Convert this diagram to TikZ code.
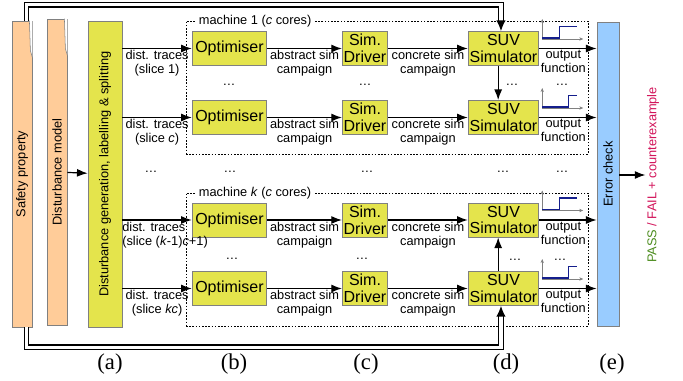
\documentclass[tikz,border=0pt]{standalone}
\usepackage{fontspec}
\usepackage{graphicx}
\setmainfont{Liberation Sans}
\newfontfamily\capfont{Liberation Serif}
\usepackage{tikz}
\usetikzlibrary{arrows.meta}
\definecolor{boxyellow}{RGB}{228,228,76}
\definecolor{boxorange}{RGB}{255,204,153}
\definecolor{boxblue}{RGB}{153,204,255}
\definecolor{passgreen}{RGB}{76,140,30}
\definecolor{failred}{RGB}{210,20,90}
\definecolor{stepblue}{RGB}{20,30,140}

\begin{document}
\begin{tikzpicture}
                [
                x=0.75pt, y=-0.75pt,
                box/.style={draw=gray,line width=0.6pt,fill=boxyellow,inner sep=1pt,align=center,minimum height=25.5pt,font=\fontsize{12}{12.5}\selectfont},
                tall/.style={draw=gray,line width=0.6pt,inner sep=0pt,minimum height=229.5pt,font=\fontsize{9.6}{10.5}\selectfont},
                machine/.style={draw,thin,dash pattern=on 1.2pt off 1.2pt,minimum width=301.5pt,minimum height=99.75pt},
                lbl/.style={align=center,inner sep=1pt,font=\fontsize{9.6}{10.5}\selectfont},
                caplbl/.style={inner sep=0pt,font=\capfont\fontsize{17}{17}\selectfont},
                edge/.style={-{Latex[length=8pt,width=6pt]},line width=0.9pt},
                dbl/.style={-{Latex[length=8pt,width=7pt]},line width=0.9pt,double,double distance=2.6pt},
                signal/.style={gray,-{Stealth[length=3pt,width=2.5pt]},thin}
                ]
            \useasboundingbox (0,0) rectangle (683,381);
            % machine frames
            \node[machine] (mach1) at (387,87.5) {};
            \node[machine] (machk) at (387,259.5) {};
            \node[lbl,fill=white,anchor=west,inner sep=2pt] (mach1lbl) at ([xshift=7.7pt]mach1.north west) {machine 1 (\textit{c} cores)};
            \node[lbl,fill=white,anchor=west,inner sep=2pt] (machklbl) at ([xshift=7.7pt]machk.north west) {machine \textit{k} (\textit{c} cores)};
            % left column
            \node[tall,fill=boxorange,minimum width=15pt] (safety) at (22,174) {\rotatebox{90}{Safety property}};
            \node[tall,fill=boxorange,minimum width=15pt] (model) at (57,172) {\rotatebox{90}{Disturbance model}};
            \node[tall,fill=boxyellow,minimum width=25.5pt] (gen) at (105,174) {\rotatebox{90}{Disturbance generation, labelling \& splitting}};
            \node[tall,fill=boxblue,minimum width=16.5pt,minimum height=228pt] (err) at (608,174) {\rotatebox{90}{Error check}};
            \foreach \n in {safety,model}
            {
                \fill[white] (\n.north east) -- ++(-3,0) -- ++(1,30) -- ++(2,7) -- cycle;
                \draw[gray] (\n.north east) ++(-3,0) -- ++(1,30) -- ++(2,7);
            }
            % workers
            \node[box,minimum width=56pt] (opt1) at (229.5,48.5) {Optimiser};
            \node[box,minimum width=56pt] (opt2) at (229.5,117.5) {Optimiser};
            \node[box,minimum width=56pt] (opt3) at (229.5,220) {Optimiser};
            \node[box,minimum width=56pt] (opt4) at (229.5,288.5) {Optimiser};
            \node[box,minimum width=33pt] (drv1) at (365,48.5) {Sim.\\Driver};
            \node[box,minimum width=33pt] (drv2) at (365,117.5) {Sim.\\Driver};
            \node[box,minimum width=33pt] (drv3) at (365,220) {Sim.\\Driver};
            \node[box,minimum width=33pt] (drv4) at (365,288.5) {Sim.\\Driver};
            \node[box,minimum width=53pt] (suv1) at (503.5,48.5) {SUV\\Simulator};
            \node[box,minimum width=53pt] (suv2) at (503.5,117.5) {SUV\\Simulator};
            \node[box,minimum width=53pt] (suv3) at (503.5,220) {SUV\\Simulator};
            \node[box,minimum width=53pt] (suv4) at (503.5,288.5) {SUV\\Simulator};
            \node[lbl,rotate=90] (verdict) at (653,175) {\textcolor{passgreen}{PASS} \textcolor{failred}{/ FAIL + counterexample}};
            % dots
            \foreach \x/\y [count=\i] in {229/85,365/85,512/85,562/85,151/172,230/172,367/172,503/172,562/172,232/259,362/259,515/260,560/260}
                \node[lbl] (dots\i) at (\x,\y) {\dots};
            % captions
            \node[caplbl] (capa) at (110,364) {(a)};
            \node[caplbl] (capb) at (234,364) {(b)};
            \node[caplbl] (capc) at (366,364) {(c)};
            \node[caplbl] (capd) at (506,364) {(d)};
            \node[caplbl] (cape) at (612,364) {(e)};
            % connectors
            \draw[edge] (model) -- (gen);
            \draw[edge] (gen.east |- opt1) -- node[lbl,below]{dist. traces\\(slice 1)} (opt1);
            \draw[edge] (gen.east |- opt2) -- node[lbl,below]{dist. traces\\(slice \textit{c})} (opt2);
            \draw[edge] (gen.east |- opt3) -- node[lbl,below,align=left,xshift=6pt]{dist. traces\\(slice (\textit{k}-1)\textit{c}+1)} (opt3);
            \draw[edge] (gen.east |- opt4) -- node[lbl,below]{dist. traces\\(slice \textit{kc})} (opt4);
            \foreach \i in {1,2,3,4}
            {
                \draw[edge] (opt\i) -- node[lbl,below]{abstract sim\\campaign} (drv\i);
                \draw[edge] (drv\i) -- node[lbl,below]{concrete sim\\campaign} (suv\i);
                \draw[edge] (suv\i) -- node[lbl,below,pos=0.42]{output\\function} (suv\i -| err.west);
                % output signal
                \draw[signal] ([shift={(3,-9.5)}]suv\i.east) -- ++(0,-20);
                \draw[signal] ([shift={(3,-9.5)}]suv\i.east) -- ++(41,0);
            }
            \foreach \i/\s in {1/17,2/26,3/17,4/26}
                \draw[stepblue,thick] ([shift={(3,-10.5)}]suv\i.east) -- ++(\s,0) |- ([shift={(38,-22)}]suv\i.east);
            \draw[edge] ([xshift=-4pt]suv1.south) -- ([xshift=-4pt]suv2.north);
            \draw[edge] ([xshift=-4pt]suv4.north) -- ([xshift=-4pt]suv3.south);
            \draw[dbl] ([xshift=3.4pt]safety.north) -- ++(0,-16) -| ([xshift=-1.9pt]suv1.north);
            \draw[dbl] ([xshift=3.4pt]safety.south) -- ++(0,20) -| ([xshift=-1.9pt]suv4.south);
            \draw[edge] (err.east |- verdict.north) -- (verdict.north);
            \end{tikzpicture}
\end{document}
